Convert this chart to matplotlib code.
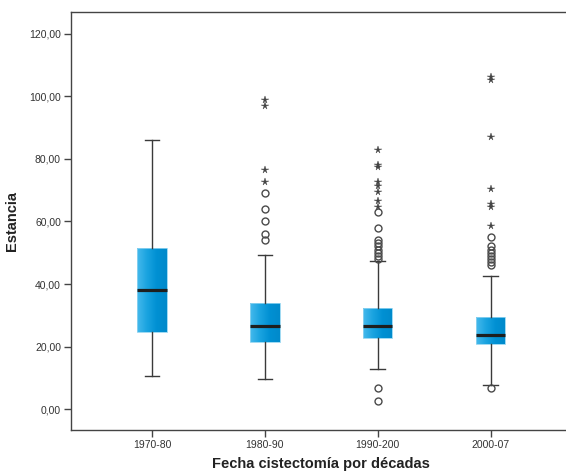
import matplotlib
matplotlib.use("Agg")
import matplotlib.pyplot as plt
import numpy as np
from matplotlib.colors import LinearSegmentedColormap
from matplotlib.ticker import FuncFormatter

plt.rcParams["font.family"] = ["Liberation Sans", "DejaVu Sans"]

# Estancia por década de cistectomía (resumen de cajas)
decadas = ["1970-80", "1980-90", "1990-200", "2000-07"]
q1 = [24.6, 21.5, 22.6, 20.7]
mediana = [38.0, 26.7, 26.7, 23.7]
q3 = [51.6, 34.0, 32.4, 29.5]
bigote_inf = [10.7, 9.6, 12.7, 7.6]
bigote_sup = [86.0, 49.3, 47.4, 42.5]

# valores atípicos (círculos) y extremos (asteriscos)
atipicos = [
    [],
    [69, 64, 60, 56, 54],
    [63, 58, 54, 53, 52, 51, 50, 49, 48, 6.6, 2.6],
    [55, 52, 51, 50, 49, 48, 47, 46, 6.6],
]
extremos = [
    [],
    [99, 97, 76.5, 72.5],
    [83, 78, 77.3, 72.5, 71.5, 69.5, 66.7, 64.7],
    [106.3, 105.3, 87, 70.3, 65.5, 64.7, 58.7],
]

fig = plt.figure(figsize=(5.66, 4.71), dpi=100)
# el eje se prolonga un poco más allá del borde derecho
ax = fig.add_axes([0.1249, 0.0870, 0.8857, 0.8875])

pos = np.arange(1, len(decadas) + 1)
stats = [
    dict(med=m, q1=a, q3=b, whislo=lo, whishi=hi, fliers=[])
    for m, a, b, lo, hi in zip(mediana, q1, q3, bigote_inf, bigote_sup)
]
bp = ax.bxp(
    stats, positions=pos, widths=0.26, capwidths=0.13, patch_artist=True,
    showfliers=False,
    boxprops=dict(facecolor="none", edgecolor="#8fd3f0", linewidth=0.6),
    medianprops=dict(color="#1e1e1e", linewidth=2.3, solid_capstyle="butt"),
    whiskerprops=dict(color="#3a3a3a", linewidth=1.0),
    capprops=dict(color="#3a3a3a", linewidth=1.0),
)

# relleno degradado de cada caja
cmap = LinearSegmentedColormap.from_list("caja", ["#45b9ec", "#1aa3e0", "#0090d3", "#008acb"])
grad = np.linspace(0, 1, 64).reshape(1, -1)
for patch in bp["boxes"]:
    ext = patch.get_path().get_extents()
    im = ax.imshow(grad, cmap=cmap, aspect="auto", interpolation="bilinear",
                   extent=[ext.x0, ext.x1, ext.y0, ext.y1], zorder=1.5)
    im.set_clip_path(patch)
for line in bp["medians"]:
    line.set_zorder(3)

for p, vals in zip(pos, atipicos):
    if vals:
        ax.plot([p] * len(vals), vals, linestyle="none", marker="o", markersize=5,
                markerfacecolor="none", markeredgecolor="#4a4a4a", markeredgewidth=1.0, zorder=4)
for p, vals in zip(pos, extremos):
    if vals:
        ax.plot([p] * len(vals), vals, linestyle="none", marker="*", markersize=5.5,
                color="#444444", markeredgewidth=0.3, zorder=4)

ax.set_xlim(0.28, 4.72)
ax.set_ylim(-6.7, 127.0)
ax.set_yticks(np.arange(0, 121, 20))
ax.yaxis.set_major_formatter(FuncFormatter(lambda v, _: f"{v:.2f}".replace(".", ",")))
ax.set_xticks(pos)
ax.set_xticklabels(decadas)

for side in ["top", "bottom", "left"]:
    ax.spines[side].set_color("#444444")
    ax.spines[side].set_linewidth(1.0)
ax.spines["right"].set_visible(False)
ax.tick_params(axis="both", direction="out", length=5, width=1.0, color="#444444",
               labelsize=7.5, labelcolor="#333333", pad=2)

ax.set_xlabel("Fecha cistectomía por décadas", fontsize=10.5, fontweight="bold",
              color="#222222", labelpad=5)
ax.set_ylabel("Estancia", fontsize=10.5, fontweight="bold", color="#222222", labelpad=7)

fig.savefig("out.png", dpi=100)
